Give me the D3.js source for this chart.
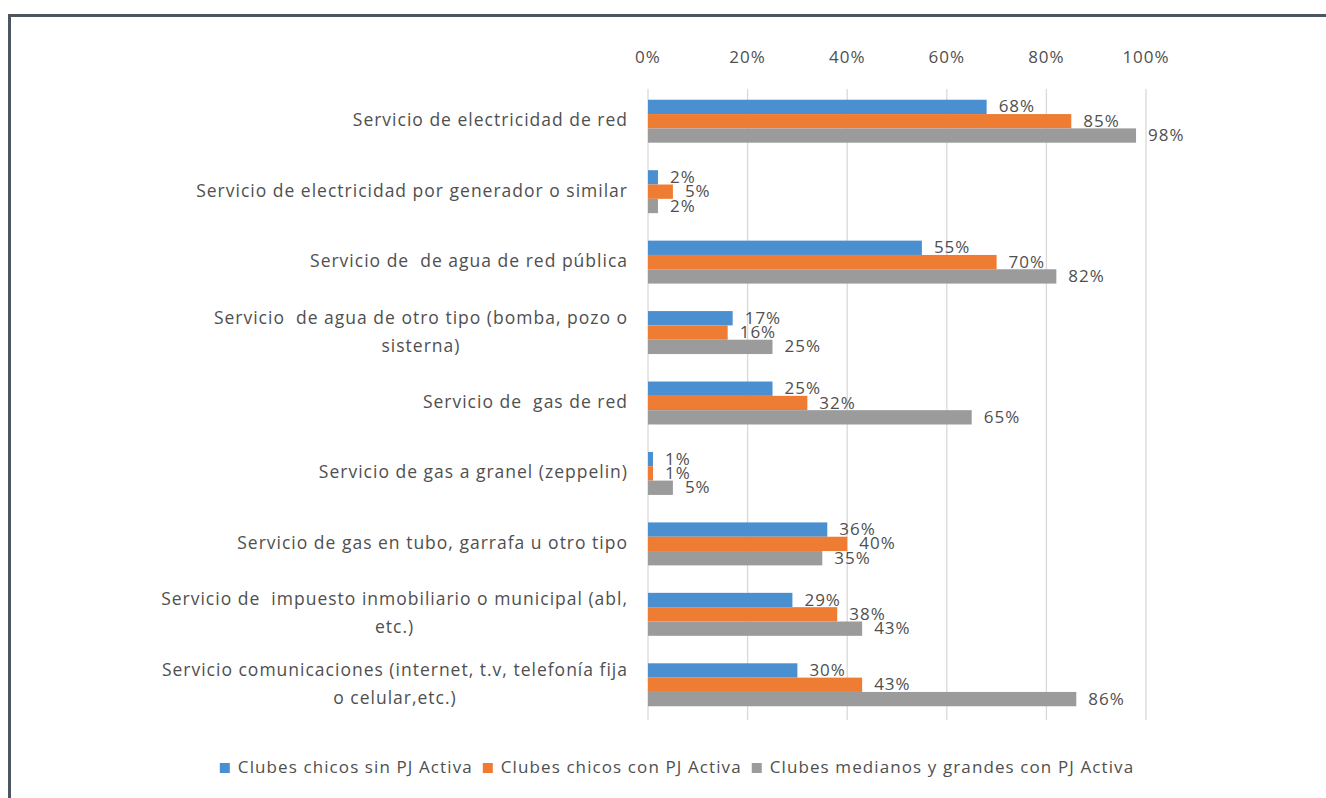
<!DOCTYPE html>
<html>
<head>
<meta charset="utf-8">
<script src="https://cdn.jsdelivr.net/npm/d3@7"></script>
<style>
  body { margin: 0; background: #fff; }
  svg { display: block; }
  text { font-family: "Open Sans", "Noto Sans", sans-serif; fill: #4f4f4f; white-space: pre; }
</style>
</head>
<body>
<svg id="chart" width="1326" height="798"></svg>
<script>
// categories (each line of a wrapped label is a separate string)
const categories = [
  ["Servicio de electricidad de red"],
  ["Servicio de electricidad por generador o similar"],
  ["Servicio de  de agua de red pública"],
  ["Servicio  de agua de otro tipo (bomba, pozo o", "sisterna)"],
  ["Servicio de  gas de red"],
  ["Servicio de gas a granel (zeppelin)"],
  ["Servicio de gas en tubo, garrafa u otro tipo"],
  ["Servicio de  impuesto inmobiliario o municipal (abl,", "etc.)"],
  ["Servicio comunicaciones (internet, t.v, telefonía fija", "o celular,etc.)"]
];
const seriesNames = [
  "Clubes chicos sin PJ Activa",
  "Clubes chicos con PJ Activa",
  "Clubes medianos y grandes con PJ Activa"
];
const chicosSinPJ = [68, 2, 55, 17, 25, 1, 36, 29, 30];
const chicosConPJ = [85, 5, 70, 16, 32, 1, 40, 38, 43];
const medianosGrandes = [98, 2, 82, 25, 65, 5, 35, 43, 86];
const ticks = [0, 20, 40, 60, 80, 100];
const colors = ["#4a90d1", "#ee7c33", "#9b9b9b"];

const seriesValues = [chicosSinPJ, chicosConPJ, medianosGrandes];

const svg = d3.select("#chart");

// frame (only top and left edges are visible in the picture)
svg.append("rect")
  .attr("x", 9.5).attr("y", 15.5)
  .attr("width", 1400).attr("height", 900)
  .attr("fill", "none")
  .attr("stroke", "#4d555e")
  .attr("stroke-width", 3);

const plot = { left: 648, right: 1146, top: 86, bottom: 720 };

const x = d3.scaleLinear().domain([0, 100]).range([plot.left, plot.right]);
const y0 = d3.scaleBand()
  .domain(d3.range(categories.length))
  .range([plot.top, plot.bottom])
  .paddingInner(0.39)
  .paddingOuter(0.195);
const y1 = d3.scaleBand()
  .domain(d3.range(seriesNames.length))
  .range([0, y0.bandwidth()]);

// gridlines
svg.append("g")
  .selectAll("line")
  .data(ticks)
  .join("line")
  .attr("x1", d => x(d)).attr("x2", d => x(d))
  .attr("y1", plot.top + 3).attr("y2", plot.bottom)
  .attr("stroke", "#d9d9d9")
  .attr("stroke-width", 1.3);

// top axis tick labels
svg.append("g")
  .selectAll("text")
  .data(ticks)
  .join("text")
  .attr("x", d => x(d))
  .attr("y", 63)
  .attr("text-anchor", "middle")
  .attr("font-size", 17)
  .attr("letter-spacing", 1)
  .text(d => d + "%");

// bars
const groups = svg.append("g")
  .selectAll("g")
  .data(categories)
  .join("g")
  .attr("transform", (d, i) => `translate(0,${y0(i)})`);

groups.each(function (cat, ci) {
  const g = d3.select(this);
  seriesValues.forEach((vals, si) => {
    g.append("rect")
      .attr("x", x(0))
      .attr("y", y1(si))
      .attr("width", x(vals[ci]) - x(0))
      .attr("height", y1.bandwidth())
      .attr("fill", colors[si]);
  });
  seriesValues.forEach((vals, si) => {
    g.append("text")
      .attr("x", x(vals[ci]) + 12)
      .attr("y", y1(si) + y1.bandwidth() / 2 + 1)
      .attr("dominant-baseline", "middle")
      .attr("font-size", 17)
      .attr("letter-spacing", 1)
      .text(vals[ci] + "%");
  });
});

// category labels
const labelRight = 628;
categories.forEach((lines, ci) => {
  const cy = y0(ci) + y0.bandwidth() / 2;
  const lineH = 28;
  const t = svg.append("text")
    .attr("font-size", 17.5)
    .attr("letter-spacing", 1)
    .attr("dominant-baseline", "middle");
  const spans = lines.map((l, li) => t.append("tspan")
    .attr("y", cy + (li - (lines.length - 1) / 2) * lineH)
    .text(l));
  const widths = spans.map(s => s.node().getComputedTextLength());
  const maxW = d3.max(widths);
  spans.forEach(s => s.attr("x", labelRight - maxW / 2).attr("text-anchor", "middle"));
});

// legend
const legend = svg.append("g");
let lx = 0;
seriesNames.forEach((name, i) => {
  legend.append("rect")
    .attr("x", lx).attr("y", 763)
    .attr("width", 10).attr("height", 10)
    .attr("fill", colors[i]);
  const t = legend.append("text")
    .attr("x", lx + 18).attr("y", 768)
    .attr("dominant-baseline", "middle")
    .attr("font-size", 17)
    .attr("letter-spacing", 1.1)
    .text(name);
  lx += 18 + t.node().getComputedTextLength() + 10;
});
const lw = lx - 10;
legend.attr("transform", `translate(${677 - lw / 2},0)`);
</script>
</body>
</html>
